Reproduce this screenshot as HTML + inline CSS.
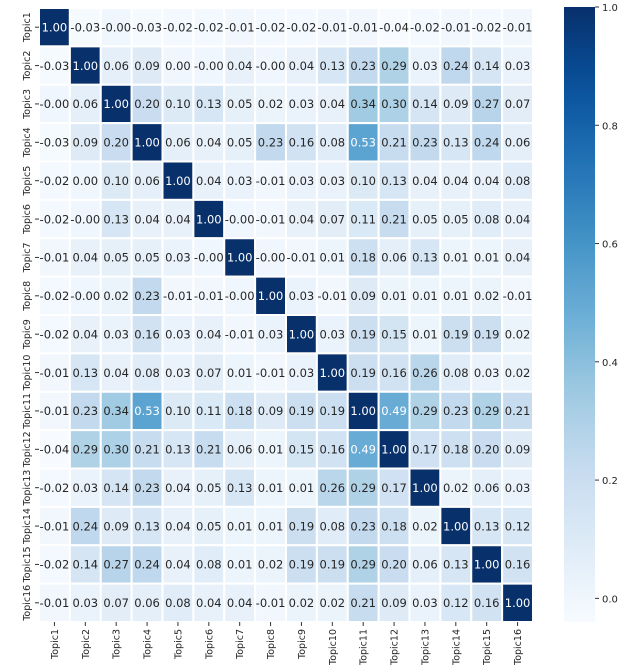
<!DOCTYPE html>
<html><head><meta charset="utf-8"><style>
html,body{margin:0;padding:0;background:#fff;}
svg{display:block;font-family:"DejaVu Sans","Liberation Sans",sans-serif;}
</style></head><body>
<svg id="chart" width="638" height="672" xmlns="http://www.w3.org/2000/svg">
<defs><linearGradient id="cbgrad" x1="0" y1="1" x2="0" y2="0"></linearGradient></defs>
<g id="cells"></g>
<g id="annots"></g>
<g id="ylabels"></g>
<g id="xlabels"></g>
<g id="colorbar"></g>
</svg>
<script>
const categories = ["Topic1","Topic2","Topic3","Topic4","Topic5","Topic6","Topic7","Topic8","Topic9","Topic10","Topic11","Topic12","Topic13","Topic14","Topic15","Topic16"];
const values = [
[1.00,-0.03,-0.00,-0.03,-0.02,-0.02,-0.01,-0.02,-0.02,-0.01,-0.01,-0.04,-0.02,-0.01,-0.02,-0.01],
[-0.03,1.00,0.06,0.09,0.00,-0.00,0.04,-0.00,0.04,0.13,0.23,0.29,0.03,0.24,0.14,0.03],
[-0.00,0.06,1.00,0.20,0.10,0.13,0.05,0.02,0.03,0.04,0.34,0.30,0.14,0.09,0.27,0.07],
[-0.03,0.09,0.20,1.00,0.06,0.04,0.05,0.23,0.16,0.08,0.53,0.21,0.23,0.13,0.24,0.06],
[-0.02,0.00,0.10,0.06,1.00,0.04,0.03,-0.01,0.03,0.03,0.10,0.13,0.04,0.04,0.04,0.08],
[-0.02,-0.00,0.13,0.04,0.04,1.00,-0.00,-0.01,0.04,0.07,0.11,0.21,0.05,0.05,0.08,0.04],
[-0.01,0.04,0.05,0.05,0.03,-0.00,1.00,-0.00,-0.01,0.01,0.18,0.06,0.13,0.01,0.01,0.04],
[-0.02,-0.00,0.02,0.23,-0.01,-0.01,-0.00,1.00,0.03,-0.01,0.09,0.01,0.01,0.01,0.02,-0.01],
[-0.02,0.04,0.03,0.16,0.03,0.04,-0.01,0.03,1.00,0.03,0.19,0.15,0.01,0.19,0.19,0.02],
[-0.01,0.13,0.04,0.08,0.03,0.07,0.01,-0.01,0.03,1.00,0.19,0.16,0.26,0.08,0.03,0.02],
[-0.01,0.23,0.34,0.53,0.10,0.11,0.18,0.09,0.19,0.19,1.00,0.49,0.29,0.23,0.29,0.21],
[-0.04,0.29,0.30,0.21,0.13,0.21,0.06,0.01,0.15,0.16,0.49,1.00,0.17,0.18,0.20,0.09],
[-0.02,0.03,0.14,0.23,0.04,0.05,0.13,0.01,0.01,0.26,0.29,0.17,1.00,0.02,0.06,0.03],
[-0.01,0.24,0.09,0.13,0.04,0.05,0.01,0.01,0.19,0.08,0.23,0.18,0.02,1.00,0.13,0.12],
[-0.02,0.14,0.27,0.24,0.04,0.08,0.01,0.02,0.19,0.19,0.29,0.20,0.06,0.13,1.00,0.16],
[-0.01,0.03,0.07,0.06,0.08,0.04,0.04,-0.01,0.02,0.02,0.21,0.09,0.03,0.12,0.16,1.00]
];
const colorbarTicks = [0.0,0.2,0.4,0.6,0.8,1.0];
const colorbarTickLabels = ["0.0","0.2","0.4","0.6","0.8","1.0"];
const vmin = -0.04, vmax = 1.0;

const NS="http://www.w3.org/2000/svg";
const L=39,T=8,R=533,B=622;
const n=categories.length, cw=(R-L)/n, ch=(B-T)/n;
const stops=[[247,251,255],[222,235,247],[198,219,239],[158,202,225],[107,174,214],[66,146,198],[33,113,181],[8,81,156],[8,48,107]];
function cmap(v){let t=(v-vmin)/(vmax-vmin);t=Math.max(0,Math.min(1,t));const p=t*8,i=Math.min(7,Math.floor(p)),f=p-i;
 return stops[i].map((a,k)=>a+(stops[i+1][k]-a)*f);}
function rgb(c){return `rgb(${c.map(Math.round).join(',')})`;}
function lum(c){const l=c.map(x=>{x/=255;return x<=0.03928?x/12.92:Math.pow((x+0.055)/1.055,2.4);});return 0.2126*l[0]+0.7152*l[1]+0.0722*l[2];}
function mk(tag,attrs){const e=document.createElementNS(NS,tag);for(const k in attrs)e.setAttribute(k,attrs[k]);return e;}
const gC=document.getElementById('cells'),gA=document.getElementById('annots'),gY=document.getElementById('ylabels'),gX=document.getElementById('xlabels'),gB=document.getElementById('colorbar');
values.forEach((row,r)=>row.forEach((v,c)=>{
 const col=cmap(v);
 const rect=mk('rect',{x:L+c*cw,y:T+r*ch,width:cw,height:ch,fill:rgb(col),stroke:'#fff','stroke-width':2});
 
 
 gC.appendChild(rect);
 const t=mk('text',{x:L+(c+0.5)*cw,y:T+(r+0.5)*ch+4.3,'text-anchor':'middle','font-size':11.5,fill:lum(col)>0.408?'#262626':'#fff'});
 t.textContent=(Object.is(v,-0)?'-':'')+v.toFixed(2);
 
 
 gA.appendChild(t);
}));
categories.forEach((name,i)=>{
 const cy=T+(i+0.5)*ch;
 gY.appendChild(mk('line',{x1:L-4,x2:L,y1:cy,y2:cy,stroke:'#333','stroke-width':1}));
 const t=mk('text',{x:0,y:0,'text-anchor':'middle','font-size':9.5,fill:'#262626',transform:`translate(30,${cy}) rotate(-90)`});
 t.textContent=name;
 
 
 gY.appendChild(t);
 const cx=L+(i+0.5)*cw;
 gX.appendChild(mk('line',{x1:cx,x2:cx,y1:B,y2:B+4,stroke:'#333','stroke-width':1}));
 const u=mk('text',{x:0,y:0,'text-anchor':'end','font-size':9.5,fill:'#262626',transform:`translate(${cx+3.5},${B+7}) rotate(-90)`});
 u.textContent=name;
 
 
 gX.appendChild(u);
});
const grad=document.getElementById('cbgrad');
for(let i=0;i<=20;i++){grad.appendChild(mk('stop',{offset:i/20,'stop-color':rgb(cmap(vmin+(vmax-vmin)*i/20))}));}
const CX=564,CW=31,CT=7,CB=622;
const bar=mk('rect',{x:CX,y:CT,width:CW,height:CB-CT,fill:'url(#cbgrad)'});


gB.appendChild(bar);
function cby(v){return CB-(v-vmin)/(vmax-vmin)*(CB-CT);}
colorbarTicks.forEach((v,i)=>{
 const y=cby(v);
 gB.appendChild(mk('line',{x1:CX+CW,x2:CX+CW+4,y1:y,y2:y,stroke:'#333','stroke-width':1}));
 const t=mk('text',{x:CX+CW+7,y:y+4,'font-size':10,fill:'#262626'});
 t.textContent=colorbarTickLabels[i];
 
 
 gB.appendChild(t);
});
</script>
</body></html>
